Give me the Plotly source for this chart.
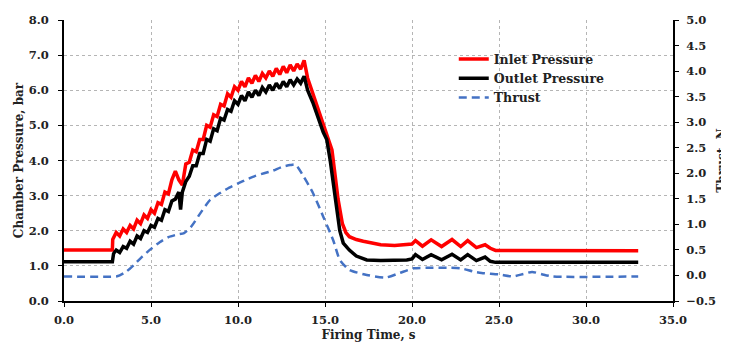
import plotly.graph_objects as go

# ---- data ----
t_inlet = [0, 2.78, 2.8, 3.0, 3.2, 3.4, 3.6, 3.8, 4.0, 4.2, 4.4, 4.6, 4.8, 5.0, 5.2, 5.4, 5.6, 5.8,
           6.0, 6.2, 6.4, 6.6, 6.8, 7.0, 7.2, 7.4, 7.6, 7.8, 8.0, 8.2, 8.4, 8.6, 8.8, 9.0, 9.2, 9.4,
           9.6, 9.8, 10.0, 10.2, 10.4, 10.6, 10.8, 11.0, 11.2, 11.4, 11.6, 11.8, 12.0, 12.2, 12.4,
           12.6, 12.8, 13.0, 13.2, 13.4, 13.6, 13.8, 14.0, 14.3, 14.6, 14.9, 15.1, 15.4, 15.6, 15.75,
           16.0, 16.2, 16.4, 16.8, 17.2, 17.6, 18.2, 19.0, 19.7, 20.0, 20.2, 20.6, 21.1, 21.7, 22.3,
           22.8, 23.2, 23.7, 24.2, 24.5, 24.8, 33.0]
inlet_pressure = [1.45, 1.45, 1.75, 1.95, 1.85, 2.05, 1.95, 2.15, 2.05, 2.3, 2.2, 2.45, 2.35, 2.6,
                  2.5, 2.8, 2.75, 3.1, 3.05, 3.45, 3.7, 3.45, 3.3, 3.9, 3.95, 4.3, 4.25, 4.6, 4.6,
                  5.0, 4.95, 5.3, 5.25, 5.6, 5.55, 5.9, 5.8, 6.1, 6.0, 6.25, 6.1, 6.35, 6.2, 6.42,
                  6.25, 6.48, 6.35, 6.55, 6.4, 6.62, 6.45, 6.68, 6.5, 6.72, 6.55, 6.75, 6.6, 6.85,
                  6.35, 5.9, 5.45, 5.0, 4.75, 4.3, 3.5, 2.9, 2.2, 1.95, 1.83, 1.75, 1.7, 1.66, 1.6,
                  1.58, 1.6, 1.62, 1.72, 1.56, 1.74, 1.55, 1.75, 1.55, 1.72, 1.52, 1.6, 1.5, 1.44,
                  1.43]

t_outlet = [0, 2.78, 2.85, 3.0, 3.2, 3.4, 3.6, 3.8, 4.0, 4.2, 4.4, 4.6, 4.8, 5.0, 5.2, 5.4, 5.6,
            5.8, 6.0, 6.2, 6.4, 6.6, 6.7, 6.8, 7.0, 7.2, 7.4, 7.6, 7.8, 8.0, 8.2, 8.4, 8.6, 8.8,
            9.0, 9.2, 9.4, 9.6, 9.8, 10.0, 10.2, 10.4, 10.6, 10.8, 11.0, 11.2, 11.4, 11.6, 11.8,
            12.0, 12.2, 12.4, 12.6, 12.8, 13.0, 13.2, 13.4, 13.6, 13.8, 14.0, 14.3, 14.6, 14.9,
            15.1, 15.3, 15.6, 15.85, 16.05, 16.4, 16.8, 17.4, 18.2, 19.0, 19.7, 20.0, 20.2, 20.6,
            21.1, 21.7, 22.3, 22.8, 23.2, 23.7, 24.2, 24.5, 24.8, 33.0]
outlet_pressure = [1.12, 1.12, 1.35, 1.45, 1.38, 1.55, 1.5, 1.7, 1.62, 1.85, 1.78, 2.0, 1.95, 2.15,
                   2.1, 2.35, 2.3, 2.6, 2.55, 2.85, 2.9, 3.1, 2.6, 3.1, 3.4, 3.55, 3.85, 3.85,
                   4.2, 4.2, 4.6, 4.55, 4.9, 4.85, 5.2, 5.15, 5.45, 5.4, 5.7, 5.6, 5.85, 5.7, 5.95,
                   5.8, 6.0, 5.85, 6.08, 5.95, 6.15, 6.0, 6.2, 6.05, 6.25, 6.1, 6.3, 6.15, 6.32,
                   6.2, 6.4, 6.0, 5.65, 5.2, 4.8, 4.6, 4.0, 2.9, 2.0, 1.65, 1.45, 1.28, 1.17, 1.15,
                   1.15, 1.17, 1.2, 1.32, 1.18, 1.32, 1.17, 1.33, 1.17, 1.32, 1.15, 1.25, 1.13,
                   1.1, 1.1]

t_thrust = [0, 3.0, 3.2, 3.6, 4.0, 4.5, 5.0, 5.5, 6.0, 6.5, 6.9, 7.3, 7.8, 8.4, 9.0, 9.5, 10.0,
            10.5, 11.0, 11.5, 12.0, 12.5, 13.0, 13.3, 13.75, 14.3, 14.9, 15.47, 15.86, 16.4, 17.4,
            18.5, 19.3, 20.1, 21.0, 22.0, 22.8, 23.5, 24.0, 25.0, 25.8, 26.4, 26.9, 27.5, 28.1,
            33.0]
thrust = [-0.02, -0.02, 0.0, 0.08, 0.2, 0.37, 0.52, 0.65, 0.75, 0.8, 0.83, 0.95, 1.2, 1.48, 1.62,
          1.72, 1.8, 1.88, 1.95, 2.0, 2.05, 2.12, 2.16, 2.17, 1.95, 1.62, 1.15, 0.69, 0.3, 0.11,
          0.01, -0.04, 0.05, 0.14, 0.15, 0.15, 0.14, 0.08, 0.05, 0.02, -0.02, 0.03, 0.07, 0.02,
          -0.02, -0.02]

x_ticks = [0, 5, 10, 15, 20, 25, 30, 35]

FONT = "DejaVu Serif, serif"

fig = go.Figure()
fig.add_trace(go.Scatter(x=t_inlet, y=inlet_pressure, name="Inlet Pressure", mode="lines",
                         line=dict(color="#FF0000", width=3.5)))
fig.add_trace(go.Scatter(x=t_outlet, y=outlet_pressure, name="Outlet Pressure", mode="lines",
                         line=dict(color="#000000", width=3.5)))
fig.add_trace(go.Scatter(x=t_thrust, y=thrust, name="Thrust", mode="lines", yaxis="y2",
                         line=dict(color="#4472C4", width=2.5, dash="8px,5px", shape="spline",
                                   smoothing=0.6)))

tickfont = dict(family=FONT, size=11.5, color="#222", weight="bold")
titlefont = dict(family=FONT, size=12, color="#222", weight="bold")

# the page places the figure 8px from the top-left corner of the window
fig.update_layout(
    width=721, height=336,
    margin=dict(l=56, r=56, t=12, b=43, autoexpand=False),
    paper_bgcolor="white", plot_bgcolor="white",
    showlegend=True,
    legend=dict(x=0.64, y=0.913, xanchor="left", yanchor="top", bgcolor="rgba(0,0,0,0)",
                font=dict(family=FONT, size=12.5, color="#222", weight="bold"),
                tracegroupgap=0, itemwidth=30),
    xaxis=dict(range=[0, 35], tickvals=x_ticks, tickformat=".1f", showline=True,
               linecolor="black", linewidth=2, ticks="outside", ticklen=4, tickcolor="black",
               showgrid=True, gridcolor="#b5b5b5", griddash="dot", gridwidth=1,
               zeroline=False, tickfont=tickfont, automargin=False, ticklabelstandoff=3,
               title=dict(text="Firing Time, s", font=titlefont, standoff=5)),
    yaxis=dict(range=[0, 8], dtick=1, tickformat=".1f", showline=True, linecolor="black",
               linewidth=2, ticks="outside", ticklen=4, tickcolor="black", showgrid=True,
               gridcolor="#b5b5b5", griddash="dot", gridwidth=1, zeroline=False,
               tickfont=tickfont, automargin=False, ticklabelstandoff=7,
               title=dict(text="Chamber Pressure, bar", font=titlefont, standoff=2)),
    yaxis2=dict(range=[-0.5, 5.0], dtick=0.5, tickformat=".1f", overlaying="y", side="right",
                showline=True, linecolor="black", linewidth=2, ticks="outside", ticklen=4,
                tickcolor="black", showgrid=False, zeroline=False, tickfont=tickfont,
                automargin=False, ticklabelstandoff=5,
                title=dict(text="Thrust, N", font=titlefont, standoff=3)),
)

fig.write_html("out.html")
